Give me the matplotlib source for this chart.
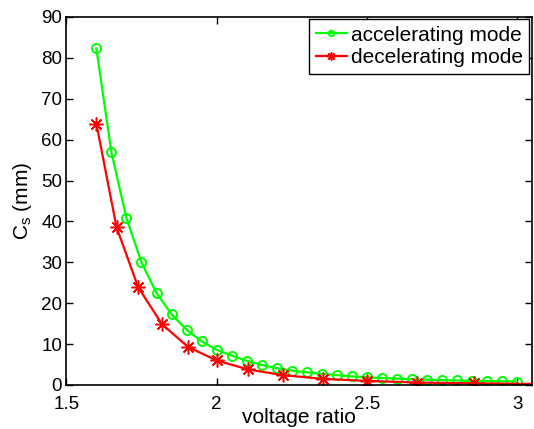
import matplotlib
matplotlib.use("Agg")
import matplotlib.pyplot as plt

# accelerating mode: voltage ratio 1.6 .. 3.0 in steps of 0.05
acc_ratio = [1.60, 1.65, 1.70, 1.75, 1.80, 1.85, 1.90, 1.95, 2.00, 2.05,
             2.10, 2.15, 2.20, 2.25, 2.30, 2.35, 2.40, 2.45, 2.50, 2.55,
             2.60, 2.65, 2.70, 2.75, 2.80, 2.85, 2.90, 2.95, 3.00]
acc_cs = [82.3, 56.9, 40.8, 30.0, 22.5, 17.3, 13.5, 10.7, 8.6, 7.2,
          5.9, 4.9, 4.1, 3.5, 3.1, 2.7, 2.4, 2.1, 1.9, 1.7,
          1.55, 1.4, 1.3, 1.2, 1.1, 1.0, 0.95, 0.9, 0.85]

# decelerating mode
dec_ratio = [1.600, 1.667, 1.739, 1.818, 1.905, 2.000, 2.105, 2.222,
             2.353, 2.500, 2.667, 2.857, 3.077]
dec_cs = [63.9, 38.6, 23.9, 14.9, 9.3, 6.0, 3.8, 2.4,
          1.5, 1.0, 0.6, 0.4, 0.25]

x_ticks = [1.5, 2, 2.5, 3]
y_ticks = list(range(0, 91, 10))

plt.rcParams["font.family"] = ["Liberation Sans", "DejaVu Sans"]

fig = plt.figure(figsize=(5.34, 4.29), dpi=100)
ax = fig.add_axes([0.1242, 0.1026, 0.8715, 0.8578])

ax.plot(acc_ratio, acc_cs, color="#00ff00", linewidth=1.6, marker="o",
        markersize=6.5, markerfacecolor="none", markeredgewidth=1.4,
        label="accelerating mode")
ax.plot(dec_ratio, dec_cs, color="#ff0000", linewidth=1.6, marker=(8, 2, 0),
        markersize=10, markeredgewidth=1.1, label="decelerating mode")

ax.set_xlim(1.5, 3.048)
ax.set_ylim(0, 90)
ax.set_xticks(x_ticks)
ax.set_xticklabels(["1.5", "2", "2.5", "3"])
ax.set_yticks(y_ticks)
ax.tick_params(direction="in", top=True, right=True, length=5, width=1,
               labelsize=13.5, colors="black")
ax.tick_params(axis="x", pad=8)
ax.tick_params(axis="y", pad=3)
for spine in ax.spines.values():
    spine.set_linewidth(1.2)

# the reference label sits right at the bottom edge; keep it just inside
ax.set_xlabel("voltage ratio", fontsize=15, labelpad=-4)
ax.set_ylabel(r"C$_{\mathregular{s}}$ (mm)", fontsize=15, labelpad=5)

leg = ax.legend(loc="upper right", fontsize=15, numpoints=1, markerscale=0.6,
                fancybox=False, framealpha=1, edgecolor="black",
                borderaxespad=0.12, borderpad=0.3, handlelength=1.5,
                handletextpad=0.2, labelspacing=0.17)
leg.get_frame().set_linewidth(1.0)

fig.savefig("out.png", dpi=100)
